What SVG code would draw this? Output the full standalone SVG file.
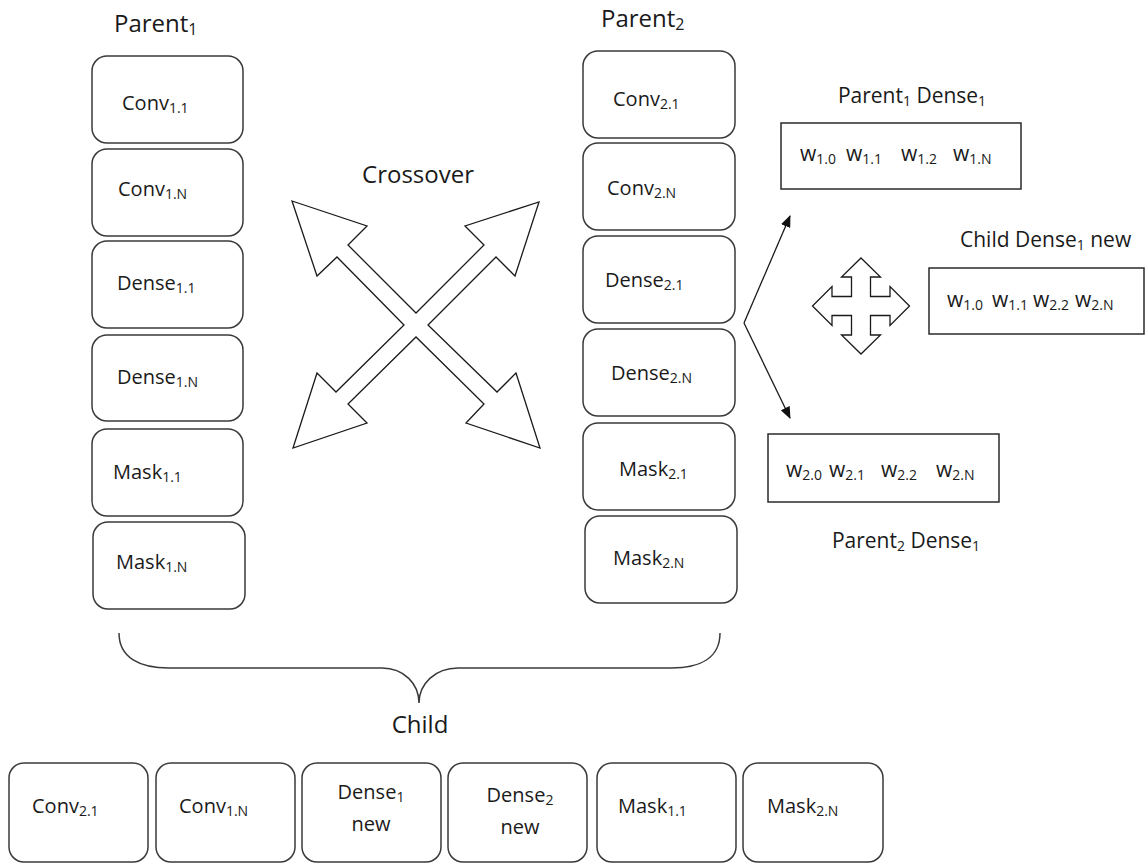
<svg xmlns="http://www.w3.org/2000/svg" width="1145" height="864" viewBox="0 0 1145 864">
  <defs>
    <style>
      .box { fill: #ffffff; stroke: #3a3a3a; stroke-width: 1.5; }
      .wbox { fill: #ffffff; stroke: #2a2a2a; stroke-width: 1.5; }
      .lbl { font-family: "Open Sans", "Noto Sans", sans-serif; font-size: 20px; fill: #1a1a1a; }
      .w { font-family: "Open Sans", "Noto Sans", sans-serif; font-size: 21px; fill: #1a1a1a; }
      .ttl { font-family: "Open Sans", "Noto Sans", sans-serif; font-size: 24px; fill: #1a1a1a; }
      .cap { font-family: "Open Sans", "Noto Sans", sans-serif; font-size: 21px; fill: #1a1a1a; }
      .outline { fill: #ffffff; stroke: #1a1a1a; stroke-width: 1.3; stroke-linejoin: miter; }
      .conn { fill: none; stroke: #1a1a1a; stroke-width: 1.3; }
      .brace { fill: none; stroke: #3a3a3a; stroke-width: 1.5; }
    </style>
    <marker id="head" viewBox="0 0 12 10" refX="11" refY="5" markerWidth="12" markerHeight="10" markerUnits="userSpaceOnUse" orient="auto">
      <path d="M0,0 L12,5 L0,10 Z" fill="#111111"/>
    </marker>
  </defs>

  <rect width="1145" height="864" fill="#ffffff"/>

  <!-- column titles -->
  <text class="ttl" x="114" y="32">Parent<tspan font-size="16" dy="3">1</tspan></text>
  <text class="ttl" x="601" y="27">Parent<tspan font-size="16" dy="3">2</tspan></text>

  <!-- parent 1 layers -->
  <g id="p1-conv11"><rect class="box" x="92" y="56" width="151" height="87" rx="15"/><text class="lbl" x="122" y="110">Conv<tspan font-size="14" dy="3">1.1</tspan></text></g>
  <g id="p1-conv1n"><rect class="box" x="92" y="149" width="151" height="87" rx="15"/><text class="lbl" x="118" y="196">Conv<tspan font-size="14" dy="3">1.N</tspan></text></g>
  <g id="p1-dense11"><rect class="box" x="92" y="241" width="151" height="87" rx="15"/><text class="lbl" x="117" y="290">Dense<tspan font-size="14" dy="3">1.1</tspan></text></g>
  <g id="p1-dense1n"><rect class="box" x="92" y="335" width="151" height="86" rx="15"/><text class="lbl" x="117" y="384">Dense<tspan font-size="14" dy="3">1.N</tspan></text></g>
  <g id="p1-mask11"><rect class="box" x="92" y="429" width="151" height="87" rx="15"/><text class="lbl" x="113" y="479">Mask<tspan font-size="14" dy="3">1.1</tspan></text></g>
  <g id="p1-mask1n"><rect class="box" x="93" y="522" width="152" height="87" rx="15"/><text class="lbl" x="116" y="569">Mask<tspan font-size="14" dy="3">1.N</tspan></text></g>

  <!-- parent 2 layers -->
  <g id="p2-conv21"><rect class="box" x="583" y="51" width="152" height="87" rx="15"/><text class="lbl" x="613" y="106">Conv<tspan font-size="14" dy="3">2.1</tspan></text></g>
  <g id="p2-conv2n"><rect class="box" x="583" y="143" width="152" height="87" rx="15"/><text class="lbl" x="607" y="195">Conv<tspan font-size="14" dy="3">2.N</tspan></text></g>
  <g id="p2-dense21"><rect class="box" x="583" y="236" width="152" height="87" rx="15"/><text class="lbl" x="605" y="287">Dense<tspan font-size="14" dy="3">2.1</tspan></text></g>
  <g id="p2-dense2n"><rect class="box" x="583" y="329" width="152" height="87" rx="15"/><text class="lbl" x="611" y="380">Dense<tspan font-size="14" dy="3">2.N</tspan></text></g>
  <g id="p2-mask21"><rect class="box" x="583" y="423" width="152" height="87" rx="15"/><text class="lbl" x="619" y="476">Mask<tspan font-size="14" dy="3">2.1</tspan></text></g>
  <g id="p2-mask2n"><rect class="box" x="585" y="516" width="152" height="87" rx="15"/><text class="lbl" x="613" y="565">Mask<tspan font-size="14" dy="3">2.N</tspan></text></g>

  <!-- crossover symbol -->
  <g id="crossover">
    <text class="ttl" x="418" y="183" text-anchor="middle" font-size="25.5">Crossover</text>
    <polygon class="outline" points="292,201 367,226 348,245 416,313 484,245 465,226 539,202 515,276 496,257 428,325 497,392 516,373 540,448 466,423 484,404 416,337 348,404 367,423 293,448 317,373 336,392 404,325 337,257 317,276"/>
  </g>

  <!-- dense weight vectors -->
  <g id="p1-dense-weights">
    <text class="cap" x="912" y="103" text-anchor="middle">Parent<tspan font-size="14" dy="3">1</tspan><tspan dy="-3"> Dense</tspan><tspan font-size="14" dy="3">1</tspan></text>
    <rect class="wbox" x="781" y="123" width="240" height="66"/>
    <text class="w" x="800" y="161">w<tspan font-size="14" dy="3">1.0</tspan></text>
    <text class="w" x="846" y="161">w<tspan font-size="14" dy="3">1.1</tspan></text>
    <text class="w" x="901" y="161">w<tspan font-size="14" dy="3">1.2</tspan></text>
    <text class="w" x="953" y="161">w<tspan font-size="14" dy="3">1.N</tspan></text>
  </g>

  <g id="child-dense-weights">
    <text class="cap" x="960" y="247">Child Dense<tspan font-size="14" dy="3">1</tspan><tspan dy="-3"> new</tspan></text>
    <rect class="wbox" x="929" y="268" width="215" height="66"/>
    <text class="w" x="947" y="307">w<tspan font-size="14" dy="3">1.0</tspan></text>
    <text class="w" x="992" y="307">w<tspan font-size="14" dy="3">1.1</tspan></text>
    <text class="w" x="1033" y="307">w<tspan font-size="14" dy="3">2.2</tspan></text>
    <text class="w" x="1075" y="307">w<tspan font-size="14" dy="3">2.N</tspan></text>
  </g>

  <g id="p2-dense-weights">
    <rect class="wbox" x="768" y="434" width="231" height="68"/>
    <text class="w" x="786" y="477">w<tspan font-size="14" dy="3">2.0</tspan></text>
    <text class="w" x="829" y="477">w<tspan font-size="14" dy="3">2.1</tspan></text>
    <text class="w" x="881" y="477">w<tspan font-size="14" dy="3">2.2</tspan></text>
    <text class="w" x="936" y="477">w<tspan font-size="14" dy="3">2.N</tspan></text>
    <text class="cap" x="906" y="548" text-anchor="middle">Parent<tspan font-size="14" dy="3">2</tspan><tspan dy="-3"> Dense</tspan><tspan font-size="14" dy="3">1</tspan></text>
  </g>

  <!-- four-way move symbol -->
  <g id="mix-symbol">
    <polygon class="outline" points="861,258 880.5,277 870.5,277 870.5,296.5 890,296.5 890,286.5 909.5,306 890,325.5 890,315.5 870.5,315.5 870.5,335 880.5,335 861,354 841.5,335 851.5,335 851.5,315.5 832,315.5 832,325.5 812.5,306 832,286.5 832,296.5 851.5,296.5 851.5,277 841.5,277"/>
  </g>

  <!-- connectors -->
  <g id="connectors">
    <line class="conn" x1="744" y1="323" x2="790" y2="216" marker-end="url(#head)"/>
    <line class="conn" x1="744" y1="323" x2="790" y2="418" marker-end="url(#head)"/>
    <path class="brace" d="M119,633 C119,658 140,668 169,668 L382,668 C404,668 419,684 419,703 C419,684 435,668 458,668 L671,668 C700,668 720,658 720,633"/>
  </g>

  <text class="ttl" x="420" y="733" text-anchor="middle" font-size="23">Child</text>

  <!-- child layers -->
  <g id="c-conv21"><rect class="box" x="9" y="763" width="139" height="99" rx="15"/><text class="lbl" x="32" y="813">Conv<tspan font-size="14" dy="3">2.1</tspan></text></g>
  <g id="c-conv1n"><rect class="box" x="156" y="763" width="139" height="99" rx="15"/><text class="lbl" x="179" y="813">Conv<tspan font-size="14" dy="3">1.N</tspan></text></g>
  <g id="c-dense1"><rect class="box" x="302" y="763" width="139" height="99" rx="15"/><text class="lbl" x="371" y="799" text-anchor="middle">Dense<tspan font-size="14" dy="3">1</tspan></text><text class="lbl" x="371" y="831" text-anchor="middle">new</text></g>
  <g id="c-dense2"><rect class="box" x="448" y="763" width="139" height="99" rx="15"/><text class="lbl" x="520" y="802" text-anchor="middle">Dense<tspan font-size="14" dy="3">2</tspan></text><text class="lbl" x="520" y="834" text-anchor="middle">new</text></g>
  <g id="c-mask11"><rect class="box" x="597" y="763" width="139" height="99" rx="15"/><text class="lbl" x="618" y="813">Mask<tspan font-size="14" dy="3">1.1</tspan></text></g>
  <g id="c-mask2n"><rect class="box" x="743" y="763" width="140" height="99" rx="15"/><text class="lbl" x="767" y="813">Mask<tspan font-size="14" dy="3">2.N</tspan></text></g>
</svg>
